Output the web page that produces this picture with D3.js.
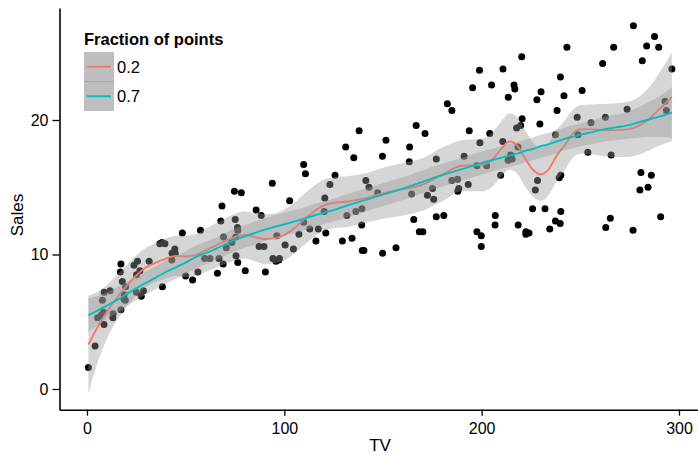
<!DOCTYPE html>
<html>
<head>
<meta charset="utf-8">
<script src="https://cdn.jsdelivr.net/npm/d3@7"></script>
<style>
  html, body { margin: 0; padding: 0; background: #ffffff; }
  svg { display: block; font-family: "Liberation Sans", Arial, Helvetica, sans-serif; }
</style>
</head>
<body>
<div id="chart"></div>
<script>
// Advertising data: TV budget vs Sales
const tv = [230.1,44.5,17.2,151.5,180.8,8.7,57.5,120.2,8.6,199.8,66.1,214.7,23.8,97.5,204.1,195.4,67.8,281.4,69.2,147.3,
  218.4,237.4,13.2,228.3,62.3,262.9,142.9,240.1,248.8,70.6,292.9,112.9,97.2,265.6,95.7,290.7,266.9,74.7,43.1,228,
  202.5,177,293.6,206.9,25.1,175.1,89.7,239.9,227.2,66.9,199.8,100.4,216.4,182.6,262.7,198.9,7.3,136.2,210.8,210.7,
  53.5,261.3,239.3,102.7,131.1,69,31.5,139.3,237.4,216.8,199.1,109.8,26.8,129.4,213.4,16.9,27.5,120.5,5.4,116,
  76.4,239.8,75.3,68.4,213.5,193.2,76.3,110.7,88.3,109.8,134.3,28.6,217.7,250.9,107.4,163.3,197.6,184.9,289.7,135.2,
  222.4,296.4,280.2,187.9,238.2,137.9,25,90.4,13.1,255.4,225.8,241.7,175.7,209.6,78.2,75.1,139.2,76.4,125.7,19.4,
  141.3,18.8,224,123.1,229.5,87.2,7.8,80.2,220.3,59.6,0.7,265.2,8.4,219.8,36.9,48.3,25.6,273.7,43,184.9,
  73.4,193.7,220.5,104.6,96.2,140.3,240.1,243.2,38,44.7,280.7,121,197.6,171.3,187.8,4.1,93.9,149.8,11.7,131.7,
  172.5,85.7,188.4,163.5,117.2,234.5,17.9,206.8,215.4,284.3,50,164.5,19.6,168.4,222.4,276.9,248.4,170.2,276.7,165.6,
  156.6,218.5,56.2,287.6,253.8,205,139.5,191.1,286,18.7,39.5,75.5,17.2,166.8,149.7,38.2,94.2,177,283.6,232.1];
const sales = [22.1,10.4,9.3,18.5,12.9,7.2,11.8,13.2,4.8,10.6,8.6,17.4,9.2,9.7,19,22.4,12.5,24.4,11.3,14.6,
  18,12.5,5.6,15.5,9.7,12,15,15.9,18.9,10.5,21.4,11.9,9.6,17.4,9.5,12.8,25.4,14.7,10.1,21.5,
  16.6,17.1,20.7,12.9,8.5,14.9,10.6,23.2,14.8,9.7,11.4,10.7,22.6,21.2,20.2,23.7,5.5,13.2,23.8,18.4,
  8.1,24.2,15.7,14,18,9.3,9.5,13.4,18.9,22.3,18.3,12.4,8.8,11,17,8.7,6.9,14.2,5.3,11,
  11.8,12.3,11.3,13.6,21.7,15.2,12,16,12.9,16.7,11.2,7.3,19.4,22.2,11.5,16.9,11.7,15.5,25.4,17.2,
  11.7,23.8,14.8,14.7,20.7,19.2,7.2,8.7,5.3,19.8,13.4,21.8,14.1,15.9,14.6,12.6,12.2,9.4,15.9,6.6,
  15.5,7,11.6,15.2,19.7,10.6,6.6,8.8,24.7,9.7,1.6,12.7,5.7,19.6,10.8,11.6,9.5,20.8,9.6,20.7,
  10.9,19.2,20.1,10.4,11.4,10.3,13.2,25.4,10.9,10.1,16.1,11.6,16.6,19,15.6,3.2,15.3,10.1,7.3,12.9,
  14.4,13.3,14.9,18,11.9,11.9,8,12.2,17.1,15,8.4,14.5,7.6,11.7,11.5,27,20.2,11.7,11.8,12.6,
  10.5,12.2,8.7,26.2,17.6,22.6,10.3,17.3,15.9,6.7,10.8,9.9,5.9,19.6,17.3,7.6,9.7,12.8,25.5,13.4];

// smoother curves (TV grid, fit, lower, upper)
const fitTV = [0.7,5,10,15,20,25,30,35,40,45,50,55,60,65,70,75,80,85,90,95,100,105,110,115,120,125,130,140,150,160,
  170,180,190,200,205,210,214,218,222,226,230,234,238,242,246,250,256,262,268,274,280,285,290,296.4];
const redFit = [3.3,4.5,5.7,6.75,7.65,8.45,9.05,9.4,9.7,9.9,9.85,9.95,10.3,10.65,11.0,11.3,11.45,11.3,11.15,11.2,
  11.45,11.95,12.6,13.2,13.65,13.85,13.9,14.15,14.55,14.85,15.2,15.95,16.6,16.65,17.0,17.85,18.4,18.1,17.15,16.3,
  15.95,16.35,17.35,18.1,18.95,19.3,19.3,19.25,19.25,19.3,19.6,20.1,20.8,21.7];
const redLo = [-0.35,1.8,3.7,5.05,6.1,6.95,7.6,7.95,8.2,8.4,8.3,8.4,8.7,9.0,9.3,9.55,9.7,9.5,9.3,9.35,
  9.55,10.05,10.7,11.3,11.75,11.95,12.0,12.3,12.65,12.9,13.25,13.95,14.7,14.7,15.0,15.8,16.3,16.0,15.05,14.3,
  14.0,14.4,15.45,16.25,17.15,17.5,17.45,17.3,17.25,17.25,17.45,17.75,18.1,18.4];
const redHi = [6.95,7.2,7.7,8.45,9.2,9.95,10.5,10.85,11.2,11.4,11.4,11.5,11.9,12.3,12.7,13.05,13.2,13.1,13.0,13.05,
  13.35,13.85,14.5,15.1,15.55,15.75,15.8,16.0,16.45,16.8,17.15,17.95,18.5,18.6,19.0,19.9,20.5,20.2,19.25,18.3,
  17.9,18.3,19.25,19.95,20.75,21.1,21.15,21.2,21.25,21.35,21.75,22.45,23.5,25.0];
const cyanFit = [5.5,5.8,6.2,6.6,7.05,7.5,7.9,8.3,8.7,9.05,9.4,9.8,10.1,10.4,10.75,11.1,11.35,11.6,11.85,12.05,
  12.25,12.45,12.65,12.9,13.1,13.3,13.55,14.0,14.45,14.9,15.4,15.9,16.35,16.8,17.0,17.2,17.35,17.5,17.7,17.85,
  18.05,18.2,18.4,18.6,18.75,18.9,19.1,19.3,19.45,19.6,19.85,20.05,20.25,20.55];
const cyanLo = [4.25,4.7,5.2,5.65,6.15,6.6,7.05,7.45,7.85,8.2,8.55,8.95,9.25,9.55,9.9,10.25,10.5,10.75,11.0,11.2,
  11.4,11.6,11.8,12.05,12.25,12.45,12.7,13.15,13.6,14.05,14.55,15.05,15.5,15.95,16.15,16.35,16.5,16.65,16.85,17.0,
  17.2,17.35,17.55,17.75,17.9,18.05,18.2,18.4,18.5,18.6,18.7,18.75,18.75,18.65];
const cyanHi = [6.75,6.9,7.2,7.55,7.95,8.4,8.75,9.15,9.55,9.9,10.25,10.65,10.95,11.25,11.6,11.95,12.2,12.45,12.7,12.9,
  13.1,13.3,13.5,13.75,13.95,14.15,14.4,14.85,15.3,15.75,16.25,16.75,17.2,17.65,17.85,18.05,18.2,18.35,18.55,18.7,
  18.9,19.05,19.25,19.45,19.6,19.75,20.0,20.2,20.4,20.6,21.0,21.35,21.75,22.45];

const xTicks = [0, 100, 200, 300];
const yTicks = [0, 10, 20];
const legendTitle = "Fraction of points";
const legendLabels = ["0.2", "0.7"];
const colors = ["#F8766D", "#00BFC4"];

const width = 698, height = 455;
const panel = { left: 59.5, right: 698, top: 8, bottom: 409.7 };

const svg = d3.select("#chart").append("svg")
  .attr("width", width)
  .attr("height", height);

// scales: calibrated on tick positions, then stretched to the panel edges
const x0 = d3.scaleLinear().domain([0, 300]).range([87, 679]);
const y0 = d3.scaleLinear().domain([0, 20]).range([389, 120]);
const x = d3.scaleLinear()
  .domain([x0.invert(panel.left), x0.invert(panel.right)])
  .range([panel.left, panel.right]);
const y = d3.scaleLinear()
  .domain([y0.invert(panel.bottom), y0.invert(panel.top)])
  .range([panel.bottom, panel.top]);

svg.append("clipPath").attr("id", "clip")
  .append("rect")
  .attr("x", panel.left).attr("y", panel.top)
  .attr("width", panel.right - panel.left).attr("height", panel.bottom - panel.top);

const plot = svg.append("g").attr("clip-path", "url(#clip)");

// points first, smoothers drawn on top (like ggplot layer order)
plot.append("g").selectAll("circle")
  .data(tv.map((d, i) => ({ tv: d, sales: sales[i] })))
  .join("circle")
  .attr("cx", d => x(d.tv))
  .attr("cy", d => y(d.sales))
  .attr("r", 3.5)
  .attr("fill", "#000000");

const smooths = [
  { fit: redFit, lo: redLo, hi: redHi, color: colors[0] },
  { fit: cyanFit, lo: cyanLo, hi: cyanHi, color: colors[1] }
];

const area = (lo, hi) => d3.area()
  .curve(d3.curveMonotoneX)
  .x((d, i) => x(fitTV[i]))
  .y0((d, i) => y(lo[i]))
  .y1((d, i) => y(hi[i]));

const line = fit => d3.line()
  .curve(d3.curveMonotoneX)
  .x((d, i) => x(fitTV[i]))
  .y((d, i) => y(fit[i]));

smooths.forEach(s => {
  plot.append("path")
    .datum(fitTV)
    .attr("fill", "#999999")
    .attr("fill-opacity", 0.4)
    .attr("d", area(s.lo, s.hi)(fitTV));
  plot.append("path")
    .datum(fitTV)
    .attr("fill", "none")
    .attr("stroke", s.color)
    .attr("stroke-width", 1.9)
    .attr("d", line(s.fit)(fitTV));
});

// axes
const xAxis = svg.append("g")
  .attr("transform", `translate(0,${panel.bottom})`)
  .call(d3.axisBottom(x).tickValues(xTicks).tickSize(6).tickPadding(6.6).tickSizeOuter(0));
const yAxis = svg.append("g")
  .attr("transform", `translate(${panel.left},0)`)
  .call(d3.axisLeft(y).tickValues(yTicks).tickSize(7).tickPadding(4).tickSizeOuter(0));

[xAxis, yAxis].forEach(g => {
  g.select(".domain").attr("stroke", "#000").attr("stroke-width", 1.6);
  g.selectAll(".tick line").attr("stroke", "#000").attr("stroke-width", 1.3);
  g.selectAll(".tick text")
    .attr("fill", "#000")
    .style("font-size", "16px")
    .style("font-family", '"Liberation Sans", Arial, sans-serif');
});

svg.append("text")
  .attr("x", 380).attr("y", 451)
  .attr("text-anchor", "middle")
  .style("font-size", "17px")
  .text("TV");

svg.append("text")
  .attr("transform", "translate(23,215) rotate(-90)")
  .attr("text-anchor", "middle")
  .style("font-size", "17px")
  .text("Sales");

// legend
const legend = svg.append("g");
legend.append("text")
  .attr("x", 84).attr("y", 45)
  .style("font-size", "16.5px")
  .style("font-weight", "bold")
  .text(legendTitle);

const keyX = 84, keyY = 52, keyW = 30, keyH = 29.5;
legendLabels.forEach((lab, i) => {
  const ky = keyY + i * keyH;
  legend.append("rect")
    .attr("x", keyX).attr("y", ky)
    .attr("width", keyW).attr("height", keyH)
    .attr("fill", "#bebebe");
  legend.append("line")
    .attr("x1", keyX + 3).attr("x2", keyX + keyW - 3)
    .attr("y1", ky + keyH / 2).attr("y2", ky + keyH / 2)
    .attr("stroke", colors[i])
    .attr("stroke-width", 1.9);
  legend.append("text")
    .attr("x", keyX + keyW + 3).attr("y", ky + keyH / 2 + 6)
    .style("font-size", "16.5px")
    .text(lab);
});
legend.append("line")
  .attr("x1", keyX).attr("x2", keyX + keyW)
  .attr("y1", keyY + keyH).attr("y2", keyY + keyH)
  .attr("stroke", "#a9a9a9")
  .attr("stroke-width", 1);
</script>
</body>
</html>
